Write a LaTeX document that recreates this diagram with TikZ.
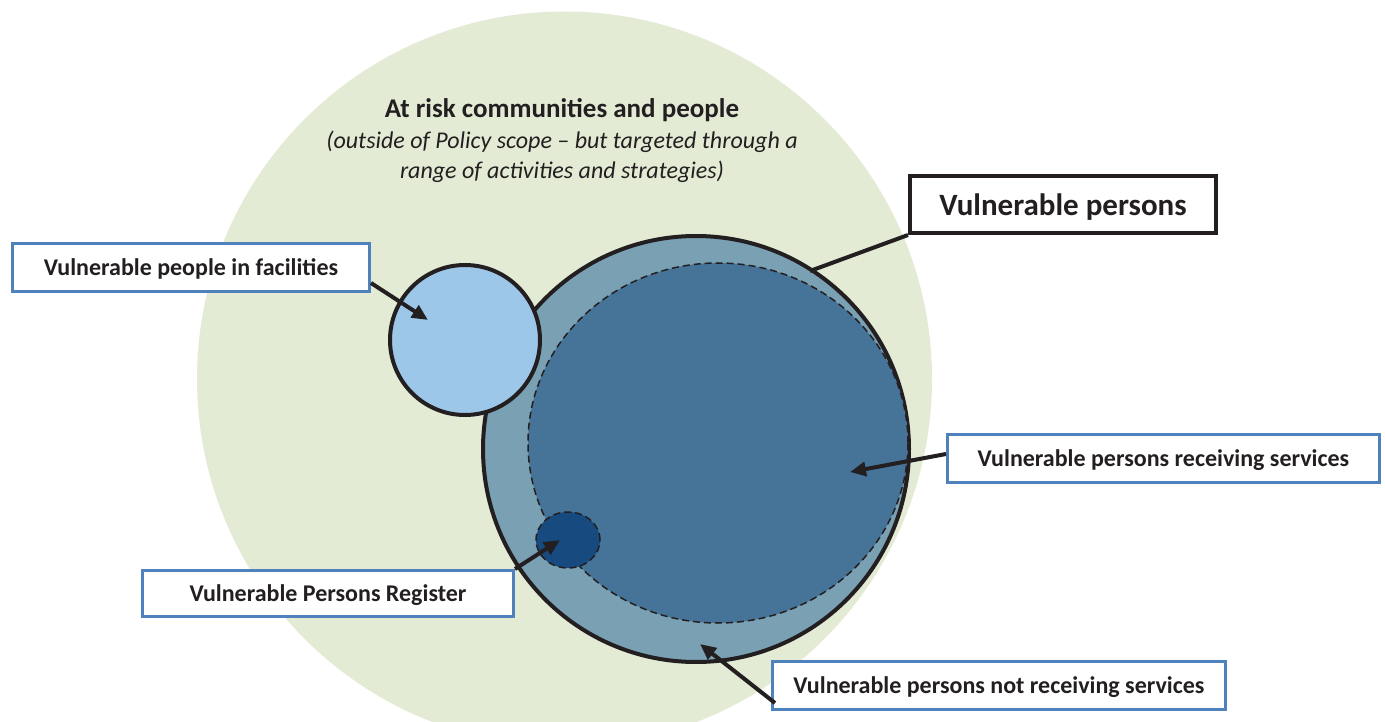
\documentclass[tikz,border=0pt]{standalone}
\usepackage{fontspec}
\setmainfont{Carlito}
\usetikzlibrary{arrows.meta,shapes.geometric}
\definecolor{riskgreen}{HTML}{E3EBD5}
\definecolor{vpfill}{HTML}{7AA0B4}
\definecolor{recvfill}{HTML}{467398}
\definecolor{regfill}{HTML}{174A7E}
\definecolor{facfill}{HTML}{9DC7E8}
\definecolor{boxblue}{HTML}{4F81BD}
\definecolor{ink}{HTML}{231F20}
\tikzset{
  x=1pt, y=-1pt,
  labelbox/.style={draw=boxblue, line width=3pt, fill=white, text=ink,
    font=\bfseries\fontsize{24}{28}\selectfont, inner sep=0pt, text depth=0pt,
    anchor=north west},
  ring/.style={circle, draw=ink, line width=4pt, inner sep=0pt},
  dashring/.style={draw=ink, line width=1.5pt, dash pattern=on 7pt off 4pt, inner sep=0pt},
  pointer/.style={draw=ink, line width=4pt, -{Triangle[length=16pt,width=14pt]}},
  leader/.style={draw=ink, line width=4pt},
}
\begin{document}
\begin{tikzpicture}
\useasboundingbox (0,0) rectangle (1385,722);
\begin{scope}
  \clip (0,0) rectangle (1385,722);
  \fill[riskgreen] (564.5,379) circle (367.5);
\end{scope}

% heading of the at-risk population
\node[text=ink, font=\bfseries\fontsize{27}{30}\selectfont] (title) at (562,110) {At risk communities and people};
\node[text=ink, font=\itshape\fontsize{24}{30}\selectfont, align=center] (sub) at (562,157)
  {(outside of Policy scope -- but targeted through a\\range of activities and strategies)};

% nested populations
\node[ring, fill=vpfill, minimum size=426pt] (vp) at (696,449) {};
\node[ellipse, dashring, fill=recvfill, minimum width=380pt, minimum height=360pt] (recv) at (718,443) {};
\node[ellipse, dashring, fill=regfill, minimum width=64pt, minimum height=56pt] (reg) at (568,540) {};
\node[ring, fill=facfill, minimum size=150pt] (fac) at (465,340) {};

% label boxes
\node[labelbox, minimum width=357pt, minimum height=48pt] (bfac) at (11,242) {Vulnerable people in facilities};
\node[labelbox, draw=ink, line width=4pt, font=\bfseries\fontsize{31}{34}\selectfont,
  minimum width=306pt, minimum height=57pt] (bvp) at (908,174) {Vulnerable persons};
\node[labelbox, minimum width=432pt, minimum height=48pt] (brecv) at (946,433) {Vulnerable persons receiving services};
\node[labelbox, minimum width=371pt, minimum height=46pt] (breg) at (141,569) {Vulnerable Persons Register};
\node[labelbox, minimum width=453pt, minimum height=48pt] (bnot) at (771,660) {Vulnerable persons not receiving services};

% pointer ends
\coordinate (tfac) at (428,320);
\coordinate (trecv) at (850,472);
\coordinate (treg) at (560,540);
\coordinate (tnot) at (700,644);
\coordinate (tvp) at (810,271);

\draw[pointer] (bfac.east |- 0,283) -- (tfac);
\draw[leader] (bvp.south west) -- (tvp);
\draw[pointer] (brecv.west |- 0,454) -- (trecv);
\draw[pointer] (breg.north east) -- (treg);
\draw[pointer] (bnot.south west) ++(4,-8) -- (tnot);
\end{tikzpicture}
\end{document}
